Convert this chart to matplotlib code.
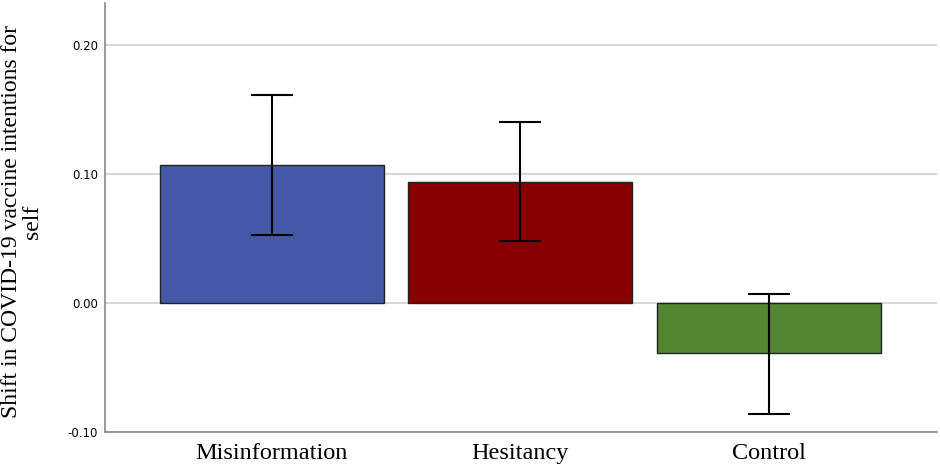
import matplotlib.pyplot as plt
import numpy as np

# datos
grupos = ["Misinformation", "Hesitancy", "Control"]
medias = [0.107, 0.094, -0.039]
ic_alto = [0.161, 0.140, 0.007]
ic_bajo = [0.053, 0.048, -0.086]
colores = ["#4558a8", "#880000", "#52862f"]

x = np.arange(len(grupos))
err = [np.array(medias) - np.array(ic_bajo), np.array(ic_alto) - np.array(medias)]

fig = plt.figure(figsize=(9.4, 4.67), dpi=100)
ax = fig.add_axes([0.1117, 0.0749, 0.885, 0.9187])

ax.bar(x, medias, width=0.9, color=colores, edgecolor="#222222", linewidth=1.0, zorder=2)
ax.errorbar(x, medias, yerr=err, fmt="none", ecolor="black", elinewidth=1.5,
            capsize=15, capthick=1.5, zorder=3)

ax.set_xlim(-0.669, 2.673)
ax.set_ylim(-0.10, 0.2326)
ax.set_yticks([-0.10, 0.00, 0.10, 0.20])
ax.set_yticklabels(["-0.10", "0.00", "0.10", "0.20"], fontsize=8.5)
ax.set_xticks(x)
ax.set_xticklabels(grupos, family="Liberation Serif", fontsize=17.5)
ax.tick_params(axis="both", length=0)
ax.tick_params(axis="y", pad=5)
ax.tick_params(axis="x", pad=8)

ax.yaxis.grid(True, color="#d0d0d0", linewidth=1.2, zorder=0)
ax.set_axisbelow(True)
for s in ["top", "right"]:
    ax.spines[s].set_visible(False)
for s in ["left", "bottom"]:
    ax.spines[s].set_color("#888888")
    ax.spines[s].set_linewidth(1.2)

ax.set_ylabel("Shift in COVID-19 vaccine intentions for\nself", family="Liberation Serif",
              fontsize=17, linespacing=1.0)
ax.yaxis.set_label_coords(-0.074, 0.49)

fig.savefig("out.png", dpi=100)
